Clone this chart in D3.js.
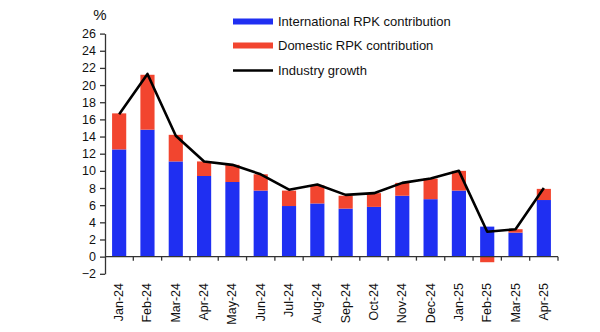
<!DOCTYPE html>
<html><head><meta charset="utf-8">
<script src="https://cdn.jsdelivr.net/npm/d3@7"></script>
<style>body{margin:0;background:#fff;} svg{display:block;font-family:"Liberation Sans",Arial,sans-serif;}</style>
</head><body>
<svg id="c" width="600" height="332"></svg>
<script>
const categories = ["Jan-24","Feb-24","Mar-24","Apr-24","May-24","Jun-24","Jul-24","Aug-24","Sep-24","Oct-24","Nov-24","Dec-24","Jan-25","Feb-25","Mar-25","Apr-25"];
const international = [12.5,14.8,11.1,9.4,8.7,7.7,5.9,6.2,5.6,5.8,7.1,6.7,7.7,3.5,2.8,6.6];
const domestic = [4.2,6.4,3.1,1.7,2.0,1.9,1.8,2.1,1.5,1.6,1.5,2.4,2.3,-0.65,0.4,1.3];
const growth = [16.6,21.3,14.1,11.1,10.7,9.6,7.8,8.4,7.2,7.4,8.6,9.1,10.0,2.9,3.2,8.0];
const yTicks = [-2,0,2,4,6,8,10,12,14,16,18,20,22,24,26];
const legendLabels = ["International RPK contribution","Domestic RPK contribution","Industry growth"];

const blue = "#1f2ff2", red = "#f2452f";
const svg = d3.select("#c");
const x = d3.scaleBand().domain(categories).range([105, 558]).paddingInner(0.5).paddingOuter(0.25);
const y = d3.scaleLinear().domain([-2, 26]).range([273.8, 33.6]);

// y axis
const ya = svg.append("g").attr("transform","translate(105,0)")
  .call(d3.axisLeft(y).tickValues(yTicks).tickSize(5).tickSizeOuter(0).tickPadding(4));
ya.select(".domain").attr("stroke","#333").attr("stroke-width",1.3);
ya.selectAll(".tick line").attr("stroke","#333").attr("stroke-width",1.3);
ya.selectAll(".tick text").attr("font-size",12.5).attr("fill","#111").attr("font-family","Liberation Sans, Arial, sans-serif");

svg.append("text").attr("x",100).attr("y",20).attr("text-anchor","middle").attr("font-size",15).attr("fill","#111").text("%");

// bars
const g = svg.append("g");
categories.forEach((c,i)=>{
  const iv = international[i], dv = domestic[i];
  g.append("rect").attr("x",x(c)).attr("width",x.bandwidth())
    .attr("y",y(Math.max(iv,0))).attr("height",Math.abs(y(iv)-y(0))).attr("fill",blue);
  if (dv >= 0) {
    g.append("rect").attr("x",x(c)).attr("width",x.bandwidth())
      .attr("y",y(iv+dv)).attr("height",y(iv)-y(iv+dv)).attr("fill",red);
  } else {
    g.append("rect").attr("x",x(c)).attr("width",x.bandwidth())
      .attr("y",y(0)).attr("height",y(dv)-y(0)).attr("fill",red);
  }
});

// x axis at zero
const step = x.step();
const bounds = d3.range(categories.length+1).map(i => 105 + i*step);
const xa = svg.append("g");
xa.append("line").attr("x1",105).attr("x2",558).attr("y1",y(0)).attr("y2",y(0)).attr("stroke","#333").attr("stroke-width",1.3);
xa.selectAll("line.t").data(bounds.slice(1)).join("line").attr("class","t")
  .attr("x1",d=>d).attr("x2",d=>d).attr("y1",y(0)).attr("y2",y(0)+4).attr("stroke","#333").attr("stroke-width",1.3);
xa.selectAll("text").data(categories).join("text")
  .attr("transform",d=>`translate(${x(d)+x.bandwidth()/2+4},283) rotate(-90)`)
  .attr("text-anchor","end").attr("font-size",12.5).attr("fill","#111").text(d=>d);

// line
svg.append("path").datum(growth)
  .attr("fill","none").attr("stroke","#000").attr("stroke-width",2.6).attr("stroke-linejoin","round")
  .attr("d", d3.line().x((d,i)=>x(categories[i])+x.bandwidth()/2).y(d=>y(d)));

// legend
const lg = svg.append("g");
const ly = [21.5, 45.5, 70.5];
lg.append("rect").attr("x",233).attr("y",ly[0]-3).attr("width",40).attr("height",6).attr("fill",blue);
lg.append("rect").attr("x",233).attr("y",ly[1]-3).attr("width",40).attr("height",6).attr("fill",red);
lg.append("line").attr("x1",233).attr("x2",273).attr("y1",ly[2]).attr("y2",ly[2]).attr("stroke","#000").attr("stroke-width",2.4);
legendLabels.forEach((t,i)=>{
  lg.append("text").attr("x",278).attr("y",ly[i]+4.5).attr("font-size",13).attr("fill","#111").text(t);
});
</script>
</body></html>
